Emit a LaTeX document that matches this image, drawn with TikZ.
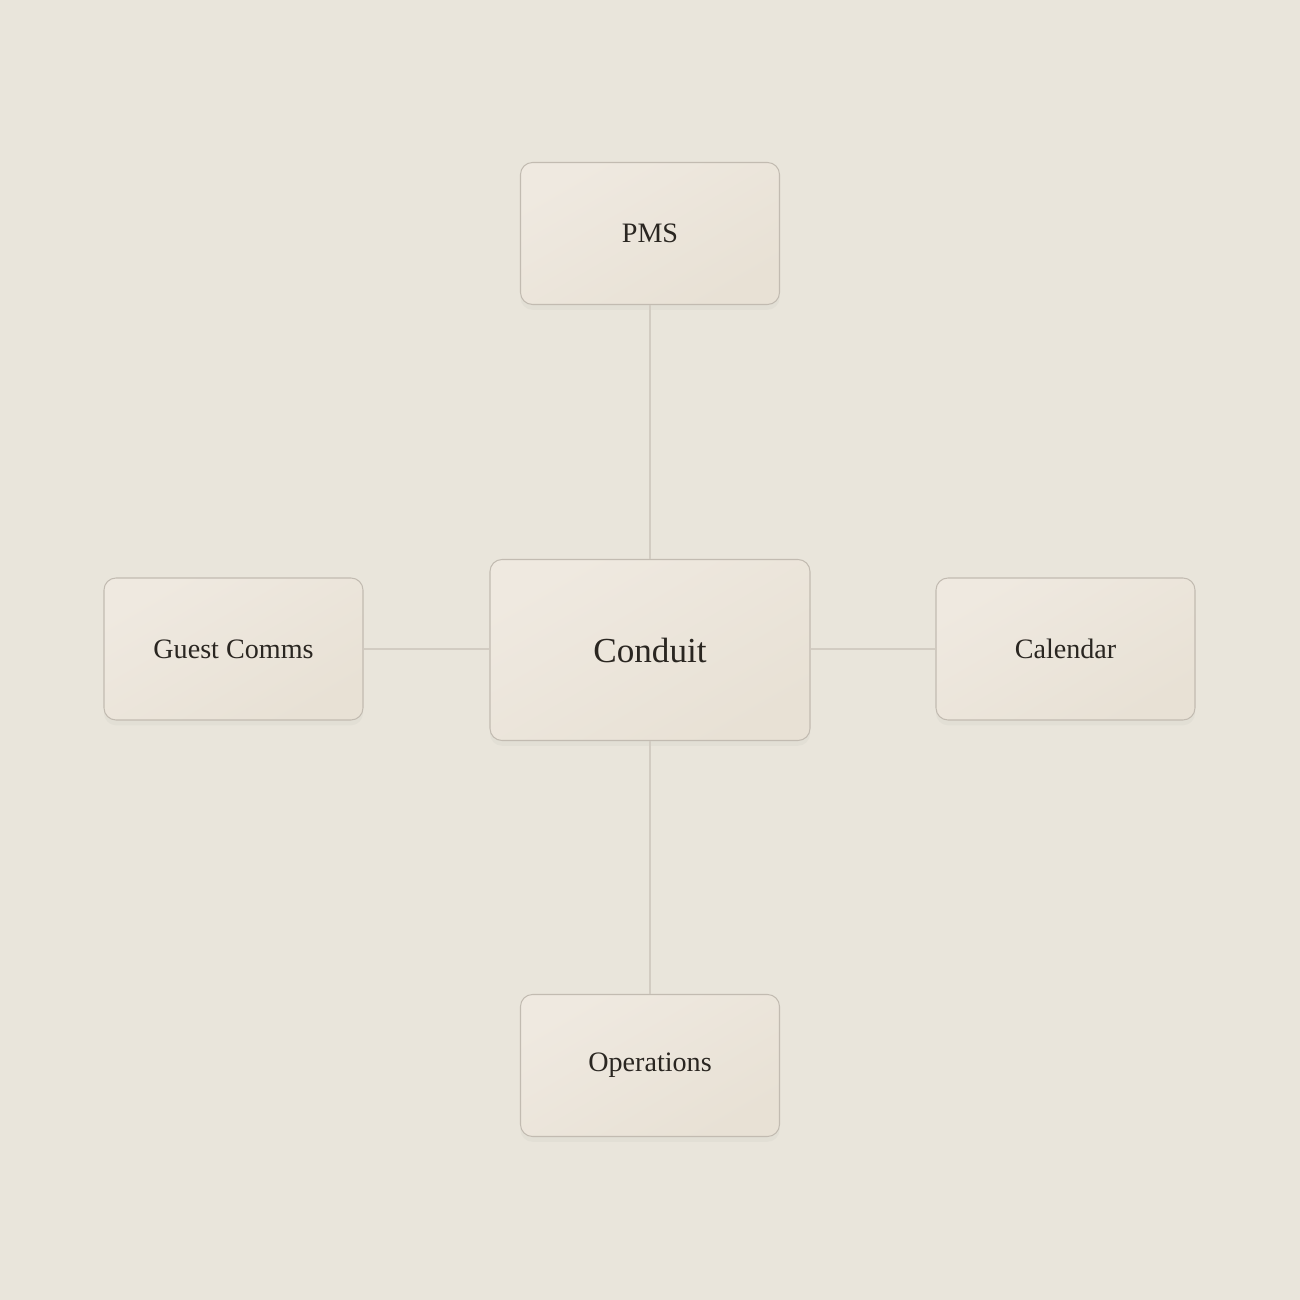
\documentclass[tikz,border=0pt]{standalone}
\usepackage{fontspec}
\setmainfont{Liberation Serif}
\usepackage{xcolor}
\definecolor{conduit-bg}{HTML}{E9E5DB}
\definecolor{conduit-box}{HTML}{EFE9E0}
\definecolor{conduit-boxdark}{HTML}{E8E1D5}
\definecolor{conduit-edge}{HTML}{C2BBB1}
\definecolor{conduit-line}{HTML}{D2CCC2}
\definecolor{conduit-text}{HTML}{2A2621}
\usetikzlibrary{shadows}

\tikzset{
    hubbox/.style={draw=conduit-edge, line width=0.6pt, rounded corners=0.24cm,
        top color=conduit-box, bottom color=conduit-boxdark, shading angle=30,
        text=conduit-text, inner sep=0pt,
        drop shadow={opacity=0.06, shadow xshift=0pt, shadow yshift=-3pt}},
    outerbox/.style={hubbox, minimum width=5.18cm, minimum height=2.84cm, font=\fontsize{16}{19}\selectfont},
    centerbox/.style={hubbox, minimum width=6.4cm, minimum height=3.62cm, font=\fontsize{20}{24}\selectfont},
    link/.style={draw=conduit-line, line width=0.6pt}
}

\begin{document}
\begin{tikzpicture}

    % Background
    \fill[conduit-bg] (0, 0) rectangle (26, 26);
    \useasboundingbox (0, 0) rectangle (26, 26);

    % Hub
    \node[centerbox] (conduit) at (13, 13) {Conduit};

    % Systems
    \node[outerbox] (pms) at (13, 21.33) {PMS};
    \node[outerbox] (guest) at (4.67, 13.02) {Guest Comms};
    \node[outerbox] (calendar) at (21.31, 13.02) {Calendar};
    \node[outerbox] (ops) at (13, 4.69) {Operations};

    % Links
    \draw[link] (pms) -- (conduit);
    \draw[link] (ops) -- (conduit);
    \draw[link] (guest.east) -- (guest.east -| conduit.west);
    \draw[link] (calendar.west) -- (calendar.west -| conduit.east);

\end{tikzpicture}
\end{document}
